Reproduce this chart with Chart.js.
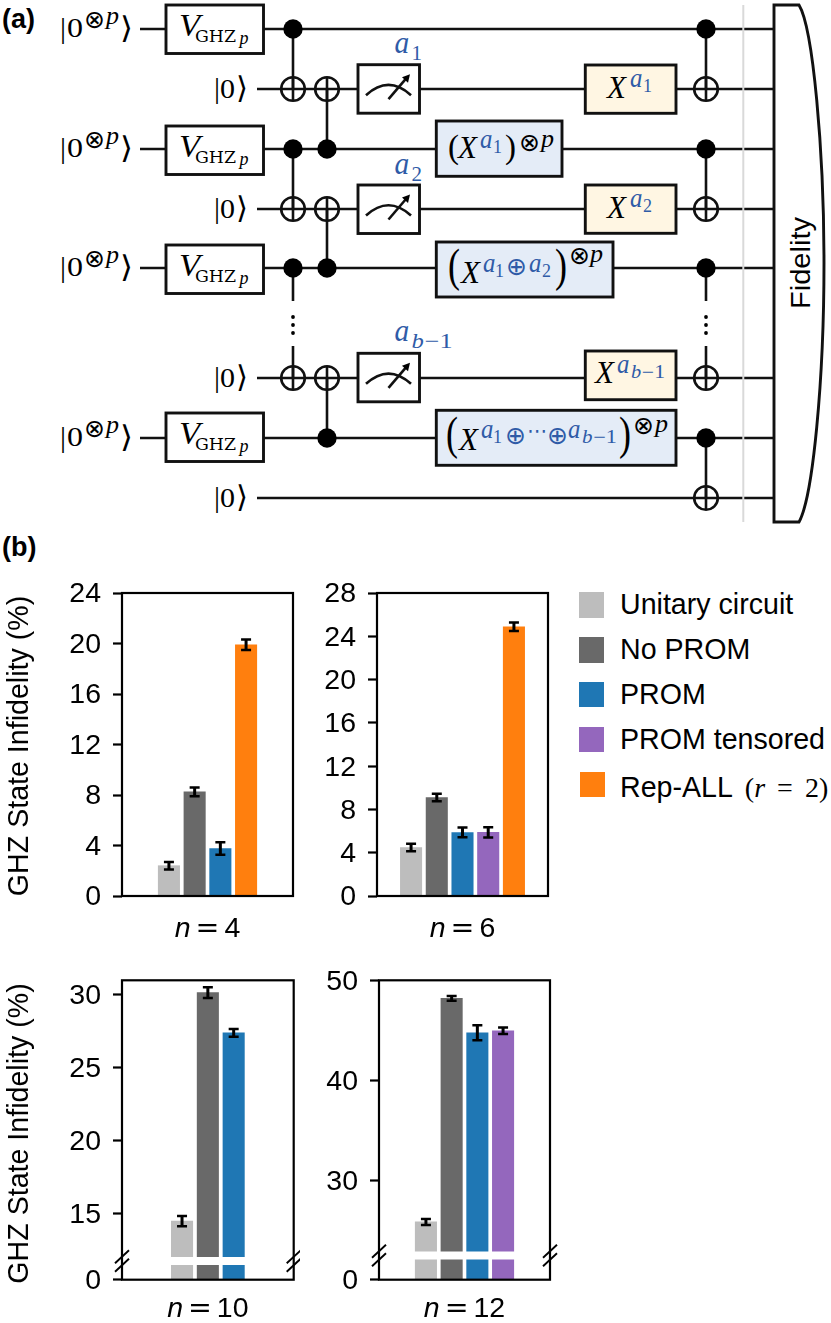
<!DOCTYPE html>
<html>
<head>
<meta charset="utf-8">
<title>GHZ state infidelity</title>
<script src="https://cdn.jsdelivr.net/npm/chart.js@4"></script>
<style>
  html, body { margin: 0; background: #fff; }
  #page { position: relative; width: 831px; height: 1323px; overflow: hidden; }
  #page canvas, #circuit, .legend-row { position: absolute; }
  #circuit { left: 0; top: 0; }
  .legend-row { left: 579px; font: 28.6px "Liberation Sans"; white-space: nowrap; height: 25.4px; line-height: 25.4px; }
  .legend-row b { display: block; position: absolute; top: 0; width: 25.4px; height: 25.4px; }
  .legend-row span { position: absolute; left: 41px; top: 0; }
  .legend-row em { font: normal 28px "Liberation Serif"; word-spacing: 5px; }
</style>
</head>
<body>
<div id="page">
  <svg id="circuit" width="831" height="575" xmlns="http://www.w3.org/2000/svg"></svg>
  <canvas id="c4" width="300" height="370" style="left:0;top:580px"></canvas>
  <canvas id="c6" width="260" height="370" style="left:300px;top:580px"></canvas>
  <canvas id="c10" width="300" height="360" style="left:0;top:963px"></canvas>
  <canvas id="c12" width="260" height="360" style="left:300px;top:963px"></canvas>
</div>
<script>
// data
const methods = ['Unitary circuit', 'No PROM', 'PROM', 'PROM tensored', 'Rep-ALL'];
const methodColors = ['#bdbdbd', '#696969', '#1f77b4', '#9467bd', '#ff7f0e'];

const n4Methods = [0, 1, 2, 4];
const n4Values = [2.4, 8.25, 3.76, 19.9];
const n4Errors = [0.3, 0.35, 0.5, 0.42];
const n4Ticks = [0, 4, 8, 12, 16, 20, 24];

const n6Methods = [0, 1, 2, 3, 4];
const n6Values = [4.48, 9.1, 5.87, 5.88, 24.88];
const n6Errors = [0.35, 0.35, 0.45, 0.47, 0.4];
const n6Ticks = [0, 4, 8, 12, 16, 20, 24, 28];

const n10Methods = [0, 1, 2];
const n10Values = [14.5, 30.16, 27.4];
const n10Errors = [0.35, 0.37, 0.27];
const n10Ticks = [0, 15, 20, 25, 30];

const n12Methods = [0, 1, 2, 3];
const n12Values = [25.9, 48.2, 44.77, 44.97];
const n12Errors = [0.3, 0.23, 0.75, 0.32];
const n12Ticks = [0, 30, 40, 50];

const yTitle = 'GHZ State Infidelity (%)';

// ---------- circuit (a) ----------
const svg = document.getElementById('circuit');
const NS = 'http://www.w3.org/2000/svg';
const SERIF = '"Liberation Serif","DejaVu Serif"';
const DEJAVU = '"DejaVu Sans"';
const BLUE = '#2f5ba7';

function el(name, attrs, text) {
  const e = document.createElementNS(NS, name);
  for (const k in attrs) e.setAttribute(k, attrs[k]);
  if (text) e.textContent = text;
  svg.appendChild(e);
  return e;
}
function line(x1, y1, x2, y2, w = 2.6, c = '#111') {
  el('line', { x1, y1, x2, y2, stroke: c, 'stroke-width': w });
}
function box(x1, y1, x2, y2, fill = '#fff') {
  el('rect', { x: x1, y: y1, width: x2 - x1, height: y2 - y1, fill, stroke: '#111', 'stroke-width': 2.9 });
}
function dot(x, y) { el('circle', { cx: x, cy: y, r: 9.7, fill: '#000' }); }
function oplus(x, y) {
  el('circle', { cx: x, cy: y, r: 11.8, fill: 'none', stroke: '#111', 'stroke-width': 2.6 });
  line(x, y - 12, x, y + 12);
}
function tx(x, y, s, size, o = {}) {
  const a = { x, y, 'font-size': size, 'font-family': o.f || SERIF, fill: o.c || '#000' };
  if (o.i) a['font-style'] = 'italic';
  if (o.b) a['font-weight'] = 'bold';
  if (o.w) { a.textLength = o.w; a.lengthAdjust = 'spacingAndGlyphs'; }
  el('text', a, s);
}
const tensor = (x, y) => tx(x, y, '\u2297', 25, { f: DEJAVU });
const xorSign = (x, y) => tx(x, y, '\u2295', 25, { f: DEJAVU, c: BLUE });
const vdots = (x) => { [317, 325, 333].forEach(y => el('circle', { cx: x, cy: y, r: 1.9, fill: '#000' })); };
const subA = (x, y, size, sub, sx, sy, ssize, sw) => {
  tx(x, y, 'a', size, { i: true, c: BLUE, w: size * 0.46 });
  if (sub === 'b-1') {
    tx(sx, sy, 'b', ssize, { i: true, c: BLUE, w: sw * 0.3 });
    tx(sx + sw * 0.32, sy, '\u22121', ssize, { c: BLUE, w: sw * 0.68 });
  } else {
    tx(sx, sy, sub, ssize, { c: BLUE });
  }
};

const wireY = [29, 89, 149, 209, 268, 378, 438, 498];
wireY.forEach((y, i) => {
  const ancilla = [1, 3, 5, 7].includes(i);
  line(ancilla ? 257 : 140, y, 775, y);
  if (ancilla) {
    tx(214, y + 9, '|', 30);
    tx(220, y + 9, '0', 27, { w: 15 });
    tx(236, y + 9, '\u27E9', 30, { f: DEJAVU, w: 12 });
  }
});

// state preparation
[[29, 5], [149, 126], [268, 245], [438, 413]].forEach(([y, top]) => {
  tx(60, y + 9, '|', 30);
  tx(67, y + 8, '0', 27, { w: 16 });
  tensor(84, y - 1);
  tx(106, y - 5, 'p', 26, { i: true });
  tx(120, y + 9, '\u27E9', 30, { f: DEJAVU, w: 13 });
  box(166, top, 263.5, top + 48.5);
  tx(179, top + 31, 'V', 31, { i: true, w: 21 });
  tx(195, top + 37, 'GHZ', 17, { f: '"DejaVu Serif"', w: 41 });
  tx(239.5, top + 39, 'p', 18, { i: true });
});

// left CNOT columns
line(293, 29, 293, 89); dot(293, 29); oplus(293, 89);
line(327, 89, 327, 149); oplus(327, 89); dot(327, 149);
line(293, 149, 293, 209); dot(293, 149); oplus(293, 209);
line(327, 209, 327, 268); oplus(327, 209); dot(327, 268);
line(293, 268, 293, 301); dot(293, 268); vdots(293);
line(293, 346, 293, 378); oplus(293, 378);
line(327, 378, 327, 438); oplus(327, 378); dot(327, 438);

// right CNOT column
line(706, 29, 706, 89); dot(706, 29); oplus(706, 89);
line(706, 149, 706, 209); dot(706, 149); oplus(706, 209);
line(706, 268, 706, 301); dot(706, 268); vdots(706);
line(706, 346, 706, 378); oplus(706, 378);
line(706, 438, 706, 498); dot(706, 438); oplus(706, 498);

// measurements
function meter(top) {
  box(358, top, 419.5, top + 48.5);
  el('path', { d: `M366 ${top + 30.5} Q388.5 ${top + 10} 411 ${top + 30.5}`, fill: 'none', stroke: '#111', 'stroke-width': 2.6 });
  line(388.5, top + 34.5, 406, top + 14);
  el('path', { d: `M410 ${top + 9.5} L402 ${top + 12.5} L408 ${top + 18} Z`, fill: '#000' });
}
meter(64.7); meter(185); meter(353.3);
subA(394.5, 53, 32, '1', 411.5, 60, 21);
subA(394.5, 174, 32, '2', 411.5, 181, 21);
subA(394.5, 341, 32, 'b-1', 411.5, 348, 21, 41);

// classically controlled X
const YELLOW = '#fff6e3', PALE = '#e4ecf7';
box(585.3, 65, 676, 113.3, YELLOW);
tx(607, 98, 'X', 31, { i: true }); subA(630, 87, 27, '1', 643, 92, 18);
box(585.3, 185, 676, 233.3, YELLOW);
tx(607, 218, 'X', 31, { i: true }); subA(630, 207, 27, '2', 643, 212, 18);
box(585.3, 351, 676, 399.7, YELLOW);
tx(595, 383, 'X', 31, { i: true }); subA(617, 373, 27, 'b-1', 631, 378, 18, 34);

// feed-forward on data blocks
box(436.3, 121, 562, 176.3, PALE);
tx(448, 158, '(', 33); tx(458, 158, 'X', 31, { i: true });
subA(480, 148, 27, '1', 493, 153, 18);
tx(505, 158, ')', 33); tensor(519, 151); tx(541, 147, 'p', 26, { i: true });

box(436.3, 242, 613, 297, PALE);
tx(448, 281, '(', 46, { w: 12 }); tx(461, 283, 'X', 31, { i: true });
subA(483, 272, 27, '1', 495, 277, 18);
xorSign(506, 275);
subA(529, 272, 27, '2', 542, 277, 18);
tx(555, 281, ')', 46, { w: 12 }); tensor(569, 264); tx(590, 262, 'p', 26, { i: true });

box(436.3, 410.3, 676, 465.3, PALE);
tx(446, 449, '(', 46, { w: 12 }); tx(459, 450, 'X', 31, { i: true });
subA(481, 438, 27, '1', 493, 443, 18);
xorSign(505, 444);
tx(527, 438, '\u22EF', 22, { f: DEJAVU, c: BLUE, w: 20 });
xorSign(547, 444);
subA(568, 438, 27, 'b-1', 582, 443, 18, 35);
tx(619, 449, ')', 46, { w: 12 }); tensor(633, 434); tx(655, 432, 'p', 26, { i: true });

// barrier and fidelity readout
line(743.3, 5, 743.3, 522, 2, '#d9d9d9');
el('path', { d: 'M774 5 H799 C813 28 824 150 824 263 C824 380 813 497 799 522 H774 Z', fill: '#fff', stroke: '#111', 'stroke-width': 2.9 });
el('text', { x: 0, y: 0, 'font-size': 28.5, 'font-family': '"Liberation Sans"', transform: 'translate(809.5 309) rotate(-90)', textLength: 92, lengthAdjust: 'spacingAndGlyphs' }, 'Fidelity');

tx(2, 27.5, '(a)', 27, { f: '"Liberation Sans"', b: true });
tx(2, 556, '(b)', 27, { f: '"Liberation Sans"', b: true });

// ---------- legend ----------
const page = document.getElementById('page');
methods.forEach((name, i) => {
  const row = document.createElement('div');
  row.className = 'legend-row';
  row.style.top = (592.3 + i * 44.9) + 'px';
  const sw = document.createElement('b');
  sw.style.background = methodColors[i];
  sw.style.left = (i === methods.length - 1 ? 1 : 0) + 'px';
  const label = document.createElement('span');
  label.textContent = name;
  row.append(sw, label);
  if (i === methods.length - 1) {
    const extra = document.createElement('em');
    extra.innerHTML = ' (<i>r</i> = 2)';
    label.appendChild(extra);
  }
  page.appendChild(row);
});

// ---------- bar panels (b) ----------
Chart.defaults.font.family = '"Liberation Sans"';
Chart.defaults.color = '#000';

// linear axis with a squeezed stretch below breakAt
class BrokenScale extends Chart.LinearScale {
  getPixelForValue(v) {
    const b = this.options.breakAt;
    if (b === undefined) return super.getPixelForValue(v);
    const span = this.options.breakSpan;
    if (v <= b) return this.bottom - (v / b) * span;
    return this.bottom - span - (v - b) / (this.max - b) * (this.height - span);
  }
  getValueForPixel(p) {
    const b = this.options.breakAt;
    if (b === undefined) return super.getValueForPixel(p);
    const span = this.options.breakSpan;
    const d = this.bottom - p;
    if (d <= span) return d / span * b;
    return b + (d - span) / (this.height - span) * (this.max - b);
  }
  // the axis title sits a little below the middle of the axis
  drawTitle() {
    this.ctx.save();
    this.ctx.translate(0, this.options.titleShift || 0);
    super.drawTitle();
    this.ctx.restore();
  }
}
BrokenScale.id = 'brokenLinear';
BrokenScale.defaults = Chart.LinearScale.defaults;
Chart.register(BrokenScale);

const panelPlugin = {
  id: 'panel',
  afterDatasetsDraw(chart, args, opts) {
    const { ctx, chartArea: a, scales: { x, y } } = chart;
    ctx.save();
    ctx.strokeStyle = '#000';

    // error bars
    const vals = chart.data.datasets[0].data;
    vals.forEach((d, i) => {
      const px = x.getPixelForValue(d.x);
      const hi = y.getPixelForValue(d.y + opts.errors[i]);
      const lo = y.getPixelForValue(d.y - opts.errors[i]);
      ctx.lineWidth = 3;
      ctx.beginPath(); ctx.moveTo(px, hi); ctx.lineTo(px, lo); ctx.stroke();
      ctx.lineWidth = 2.5;
      ctx.beginPath();
      ctx.moveTo(px - 5, hi); ctx.lineTo(px + 5, hi);
      ctx.moveTo(px - 5, lo); ctx.lineTo(px + 5, lo);
      ctx.stroke();
    });

    // white gap through the bars where the axis is cut
    const cut = y.options.breakAt;
    let cutY = null;
    if (cut !== undefined) {
      cutY = y.getPixelForValue(cut);
      ctx.fillStyle = '#fff';
      ctx.fillRect(a.left, cutY - 4, a.right - a.left, 8);
    }

    // frame
    ctx.lineWidth = 2.2;
    ctx.strokeRect(a.left, a.top, a.right - a.left, a.bottom - a.top);

    // cut marks on both spines
    if (cutY !== null) {
      ctx.lineWidth = 1.9;
      [a.left, a.right].forEach(sx => {
        [-4.2, 4.2].forEach(off => {
          ctx.beginPath();
          ctx.moveTo(sx - 7, cutY + off + 6.5);
          ctx.lineTo(sx + 7, cutY + off - 6.5);
          ctx.stroke();
        });
      });
    }

    // n = ... caption: oblique n, wide equals sign, upright number
    const cy = a.bottom + opts.captionGap;
    const parts = [
      ['n', 'italic 28.5px "Liberation Sans"'],
      ['=', '28.5px "DejaVu Sans"'],
      [String(opts.n), '28.5px "Liberation Sans"']
    ];
    const gap = 5;
    const widths = parts.map(([s, f]) => { ctx.font = f; return ctx.measureText(s).width; });
    let tx0 = (a.left + a.right) / 2 - (widths[0] + widths[1] + widths[2] + 2 * gap) / 2;
    ctx.fillStyle = '#000';
    ctx.textBaseline = 'alphabetic';
    ctx.textAlign = 'left';
    parts.forEach(([s, f], i) => {
      ctx.font = f;
      ctx.fillText(s, tx0, cy);
      tx0 += widths[i] + gap;
    });
    ctx.restore();
  }
};

const X_SLOTS = 6.65; // axis width measured in bar pitches

function makePanel(id, n, barMethods, values, errors, ticks, box, yOpts) {
  const mid = (values.length - 1) / 2;
  return new Chart(document.getElementById(id), {
    type: 'bar',
    data: {
      datasets: [{
        data: values.map((v, i) => ({ x: i, y: v })),
        backgroundColor: barMethods.map(m => methodColors[m]),
        barThickness: 21.4
      }]
    },
    plugins: [panelPlugin],
    options: {
      responsive: false,
      animation: false,
      layout: { padding: box.padding },
      plugins: {
        legend: { display: false },
        tooltip: { enabled: false },
        panel: { errors, n, captionGap: box.captionGap }
      },
      scales: {
        x: {
          type: 'linear',
          display: false,
          min: mid - X_SLOTS / 2,
          max: mid + X_SLOTS / 2,
          offset: false
        },
        y: Object.assign({
          type: 'brokenLinear',
          min: 0,
          afterBuildTicks: s => { s.ticks = ticks.map(v => ({ value: v })); },
          afterFit: s => { s.width = box.axisWidth; s.paddingTop = 0; s.paddingBottom = 0; },
          border: { display: false },
          grid: { drawOnChartArea: false, drawTicks: true, tickLength: 9, tickWidth: 2.2, tickColor: '#000' },
          ticks: { autoSkip: false, padding: 12, labelOffset: 1.5, font: { size: 28.5 }, color: '#000' },
          title: box.title
            ? { display: true, text: yTitle, font: { size: 28.6 }, color: '#000', padding: { top: 3, bottom: 0 } }
            : { display: false }
        }, yOpts)
      }
    }
  });
}

makePanel('c4', 4, n4Methods, n4Values, n4Errors, n4Ticks,
  { padding: { top: 13, bottom: 54, left: 0, right: 7 }, axisWidth: 122, captionGap: 41, title: true },
  { max: 24, titleShift: 1.5 });
makePanel('c6', 6, n6Methods, n6Values, n6Errors, n6Ticks,
  { padding: { top: 13, bottom: 54, left: 0, right: 12 }, axisWidth: 77, captionGap: 41, title: false },
  { max: 28 });
makePanel('c10', 10, n10Methods, n10Values, n10Errors, n10Ticks,
  { padding: { top: 17.3, bottom: 43.3, left: 0, right: 6.3 }, axisWidth: 122, captionGap: 37, title: true },
  { max: 31, breakAt: 11.77, breakSpan: 18.7, titleShift: 3.5 });
makePanel('c12', 12, n12Methods, n12Values, n12Errors, n12Ticks,
  { padding: { top: 17.3, bottom: 43.3, left: 0, right: 10 }, axisWidth: 79, captionGap: 37, title: false },
  { max: 50, breakAt: 22.55, breakSpan: 24.2 });
</script>
</body>
</html>
